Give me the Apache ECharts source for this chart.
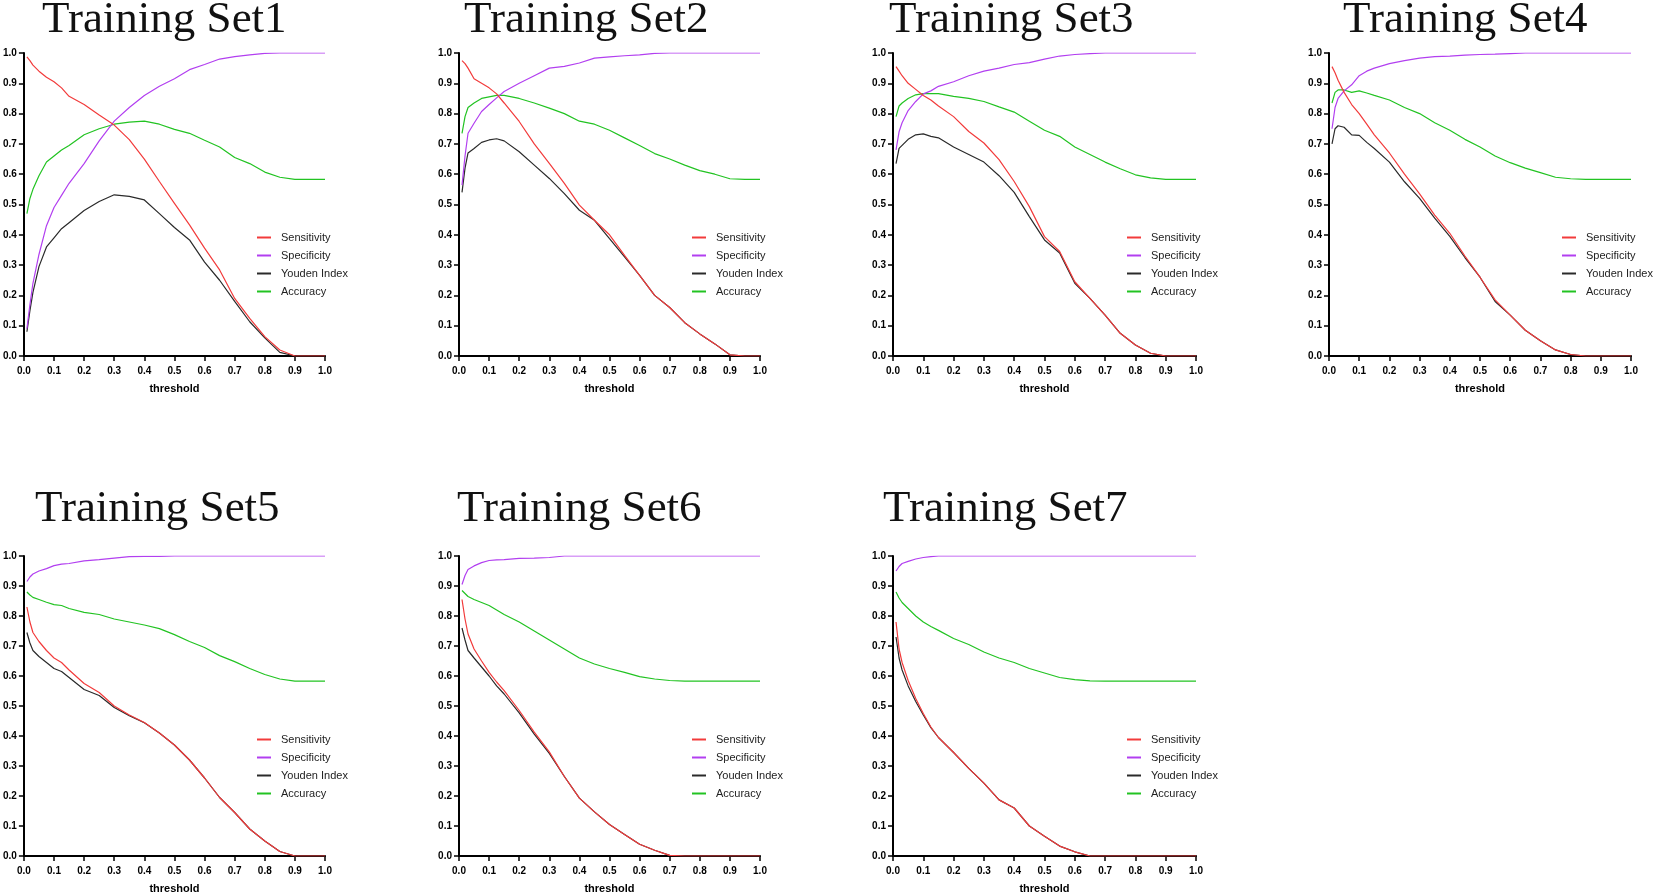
<!DOCTYPE html>
<html>
<head>
<meta charset="utf-8">
<title>Training Sets - threshold curves</title>
<script src="https://cdn.jsdelivr.net/npm/echarts@6/dist/echarts.min.js"></script>
<style>
  html, body { margin: 0; padding: 0; background: #fff; }
  #chart { width: 1654px; height: 895px; }
</style>
</head>
<body>
<div id="chart"></div>
<script>
// thresholds shared by every panel
const thresholds = [0.01, 0.02, 0.03, 0.05, 0.075, 0.1, 0.125, 0.15, 0.2, 0.25, 0.3, 0.35, 0.4,
  0.45, 0.5, 0.55, 0.6, 0.65, 0.7, 0.75, 0.8, 0.85, 0.9, 0.95, 1.0];

const tickLabels = ['0.0', '0.1', '0.2', '0.3', '0.4', '0.5', '0.6', '0.7', '0.8', '0.9', '1.0'];
const seriesNames = ['Sensitivity', 'Specificity', 'Youden Index', 'Accuracy'];
const titles = ['Training Set1', 'Training Set2', 'Training Set3', 'Training Set4',
  'Training Set5', 'Training Set6', 'Training Set7'];

// Training Set1
const set1Sens = [0.987, 0.975, 0.96, 0.94, 0.92, 0.905, 0.885, 0.857, 0.83, 0.795, 0.762, 0.714, 0.65, 0.576, 0.504, 0.433, 0.356, 0.284, 0.19, 0.124, 0.064, 0.02, 0, 0, 0];
const set1Spec = [0.09, 0.17, 0.24, 0.335, 0.43, 0.49, 0.53, 0.57, 0.635, 0.71, 0.775, 0.82, 0.86, 0.89, 0.915, 0.945, 0.962, 0.98, 0.988, 0.994, 0.999, 1, 1, 1, 1];
const set1Youden = [0.08, 0.15, 0.21, 0.295, 0.36, 0.39, 0.42, 0.44, 0.48, 0.51, 0.532, 0.527, 0.515, 0.47, 0.424, 0.383, 0.31, 0.25, 0.18, 0.113, 0.06, 0.012, 0, 0, 0];
const set1Acc = [0.47, 0.52, 0.55, 0.595, 0.64, 0.66, 0.68, 0.695, 0.73, 0.75, 0.765, 0.772, 0.775, 0.765, 0.748, 0.735, 0.712, 0.69, 0.655, 0.635, 0.607, 0.59, 0.583, 0.583, 0.583];

// Training Set2
const set2Sens = [0.975, 0.965, 0.95, 0.915, 0.9, 0.885, 0.865, 0.835, 0.774, 0.7, 0.636, 0.57, 0.498, 0.448, 0.4, 0.332, 0.266, 0.2, 0.16, 0.11, 0.073, 0.04, 0.004, 0, 0];
const set2Spec = [0.564, 0.66, 0.735, 0.768, 0.807, 0.83, 0.852, 0.873, 0.9, 0.925, 0.95, 0.956, 0.967, 0.983, 0.987, 0.991, 0.994, 0.999, 1, 1, 1, 1, 1, 1, 1];
const set2Youden = [0.54, 0.62, 0.67, 0.685, 0.705, 0.713, 0.717, 0.71, 0.674, 0.63, 0.586, 0.536, 0.481, 0.448, 0.387, 0.327, 0.266, 0.2, 0.16, 0.11, 0.073, 0.04, 0.004, 0, 0];
const set2Acc = [0.735, 0.79, 0.82, 0.835, 0.85, 0.855, 0.86, 0.86, 0.85, 0.835, 0.818, 0.8, 0.775, 0.765, 0.745, 0.72, 0.695, 0.668, 0.65, 0.63, 0.612, 0.6, 0.585, 0.583, 0.583];

// Training Set3
const set3Sens = [0.955, 0.94, 0.925, 0.9, 0.88, 0.86, 0.845, 0.825, 0.79, 0.741, 0.703, 0.648, 0.576, 0.493, 0.394, 0.345, 0.245, 0.19, 0.135, 0.075, 0.036, 0.009, 0, 0, 0];
const set3Spec = [0.68, 0.74, 0.77, 0.81, 0.84, 0.865, 0.875, 0.89, 0.905, 0.925, 0.94, 0.95, 0.962, 0.968, 0.98, 0.99, 0.995, 0.998, 1, 1, 1, 1, 1, 1, 1];
const set3Youden = [0.635, 0.685, 0.695, 0.715, 0.73, 0.733, 0.725, 0.72, 0.69, 0.665, 0.64, 0.595, 0.54, 0.46, 0.383, 0.34, 0.24, 0.19, 0.135, 0.075, 0.036, 0.009, 0, 0, 0];
const set3Acc = [0.79, 0.825, 0.835, 0.85, 0.862, 0.866, 0.866, 0.866, 0.857, 0.85, 0.84, 0.822, 0.805, 0.775, 0.745, 0.725, 0.69, 0.665, 0.64, 0.618, 0.598, 0.588, 0.583, 0.583, 0.583];

// Training Set4
const set4Sens = [0.955, 0.935, 0.91, 0.87, 0.83, 0.8, 0.765, 0.73, 0.67, 0.6, 0.535, 0.465, 0.405, 0.33, 0.26, 0.185, 0.135, 0.085, 0.05, 0.02, 0.005, 0, 0, 0, 0];
const set4Spec = [0.75, 0.82, 0.85, 0.875, 0.895, 0.925, 0.94, 0.95, 0.965, 0.975, 0.983, 0.988, 0.99, 0.993, 0.995, 0.996, 0.998, 1, 1, 1, 1, 1, 1, 1, 1];
const set4Youden = [0.70, 0.75, 0.76, 0.755, 0.73, 0.728, 0.705, 0.685, 0.64, 0.575, 0.52, 0.455, 0.395, 0.325, 0.26, 0.18, 0.135, 0.085, 0.05, 0.02, 0.005, 0, 0, 0, 0];
const set4Acc = [0.835, 0.87, 0.878, 0.878, 0.87, 0.875, 0.868, 0.86, 0.845, 0.82, 0.8, 0.77, 0.745, 0.715, 0.69, 0.66, 0.638, 0.62, 0.605, 0.59, 0.585, 0.583, 0.583, 0.583, 0.583];

// Training Set5
const set5Sens = [0.83, 0.78, 0.745, 0.715, 0.685, 0.66, 0.645, 0.62, 0.575, 0.545, 0.5, 0.47, 0.445, 0.41, 0.37, 0.32, 0.26, 0.195, 0.145, 0.09, 0.05, 0.015, 0, 0, 0];
const set5Spec = [0.915, 0.93, 0.94, 0.95, 0.958, 0.968, 0.973, 0.975, 0.984, 0.988, 0.993, 0.998, 0.999, 0.999, 1, 1, 1, 1, 1, 1, 1, 1, 1, 1, 1];
const set5Youden = [0.745, 0.71, 0.685, 0.665, 0.645, 0.625, 0.615, 0.595, 0.555, 0.535, 0.495, 0.468, 0.444, 0.41, 0.37, 0.32, 0.26, 0.195, 0.145, 0.09, 0.05, 0.015, 0, 0, 0];
const set5Acc = [0.88, 0.87, 0.862, 0.855, 0.846, 0.838, 0.835, 0.825, 0.812, 0.805, 0.79, 0.78, 0.77, 0.758, 0.738, 0.715, 0.695, 0.668, 0.648, 0.625, 0.605, 0.59, 0.583, 0.583, 0.583];

// Training Set6
const set6Sens = [0.855, 0.79, 0.74, 0.69, 0.65, 0.612, 0.58, 0.551, 0.485, 0.413, 0.347, 0.265, 0.193, 0.147, 0.105, 0.072, 0.039, 0.019, 0.002, 0, 0, 0, 0, 0, 0];
const set6Spec = [0.905, 0.935, 0.955, 0.967, 0.978, 0.985, 0.987, 0.988, 0.992, 0.993, 0.995, 1, 1, 1, 1, 1, 1, 1, 1, 1, 1, 1, 1, 1, 1];
const set6Youden = [0.76, 0.72, 0.685, 0.66, 0.63, 0.6, 0.567, 0.54, 0.477, 0.406, 0.342, 0.265, 0.193, 0.147, 0.105, 0.072, 0.039, 0.019, 0.002, 0, 0, 0, 0, 0, 0];
const set6Acc = [0.885, 0.875, 0.865, 0.855, 0.845, 0.835, 0.82, 0.805, 0.78, 0.75, 0.72, 0.69, 0.66, 0.64, 0.625, 0.612, 0.598, 0.59, 0.585, 0.583, 0.583, 0.583, 0.583, 0.583, 0.583];

// Training Set7
const set7Sens = [0.78, 0.69, 0.645, 0.585, 0.525, 0.475, 0.43, 0.395, 0.345, 0.292, 0.243, 0.187, 0.16, 0.1, 0.066, 0.033, 0.014, 0, 0, 0, 0, 0, 0, 0, 0];
const set7Spec = [0.95, 0.965, 0.975, 0.982, 0.99, 0.995, 0.998, 1, 1, 1, 1, 1, 1, 1, 1, 1, 1, 1, 1, 1, 1, 1, 1, 1, 1];
const set7Youden = [0.73, 0.66, 0.62, 0.567, 0.515, 0.47, 0.428, 0.395, 0.345, 0.292, 0.243, 0.187, 0.16, 0.1, 0.066, 0.033, 0.014, 0, 0, 0, 0, 0, 0, 0, 0];
const set7Acc = [0.88, 0.86, 0.845, 0.825, 0.8, 0.78, 0.765, 0.752, 0.725, 0.705, 0.68, 0.66, 0.645, 0.625, 0.61, 0.595, 0.588, 0.584, 0.583, 0.583, 0.583, 0.583, 0.583, 0.583, 0.583];

const sets = [
  [set1Sens, set1Spec, set1Youden, set1Acc],
  [set2Sens, set2Spec, set2Youden, set2Acc],
  [set3Sens, set3Spec, set3Youden, set3Acc],
  [set4Sens, set4Spec, set4Youden, set4Acc],
  [set5Sens, set5Spec, set5Youden, set5Acc],
  [set6Sens, set6Spec, set6Youden, set6Acc],
  [set7Sens, set7Spec, set7Youden, set7Acc]
];

// panel placement, in pixels
const panels = [
  { left: 23, top: 53, width: 302, height: 303, legendLeft: 257, legendTop: 231, titleLeft: 42, titleTop: -5 },
  { left: 459, top: 53, width: 301, height: 303, legendLeft: 692, legendTop: 231, titleLeft: 464, titleTop: -5 },
  { left: 893, top: 53, width: 303, height: 303, legendLeft: 1127, legendTop: 231, titleLeft: 889, titleTop: -5 },
  { left: 1329, top: 53, width: 302, height: 303, legendLeft: 1562, legendTop: 231, titleLeft: 1343, titleTop: -5 },
  { left: 23, top: 556, width: 302, height: 302, legendLeft: 257, legendTop: 733, titleLeft: 35, titleTop: 484 },
  { left: 459, top: 556, width: 301, height: 302, legendLeft: 692, legendTop: 733, titleLeft: 457, titleTop: 484 },
  { left: 893, top: 556, width: 303, height: 302, legendLeft: 1127, legendTop: 733, titleLeft: 883, titleTop: 484 }
];

const colors = ['#f23b3b', '#b23ff0', '#2a2a2a', '#22c322'];
const zOrder = [5, 4, 3, 2];

const chart = echarts.init(document.getElementById('chart'));

const axisCommon = {
  type: 'value',
  min: 0,
  max: 1,
  interval: 0.1,
  splitLine: { show: false },
  axisLine: { show: true, lineStyle: { color: '#000', width: 2 } },
  axisTick: { show: true, length: 5, lineStyle: { color: '#000', width: 1.5 } },
  axisLabel: {
    color: '#000',
    fontFamily: 'Liberation Sans, Arial, sans-serif',
    fontWeight: 'bold',
    fontSize: 10,
    formatter: function (v) { return tickLabels[Math.round(v * 10)]; }
  }
};

const option = {
  backgroundColor: '#fff',
  animation: false,
  title: [],
  legend: [],
  grid: [],
  xAxis: [],
  yAxis: [],
  series: []
};

panels.forEach(function (p, i) {
  option.title.push({
    text: titles[i],
    left: p.titleLeft,
    top: p.titleTop,
    padding: 0,
    textStyle: {
      fontFamily: 'Liberation Serif, Times New Roman, serif',
      fontWeight: 'normal',
      fontSize: 45,
      lineHeight: 50,
      color: '#111'
    }
  });
  option.legend.push({
    orient: 'vertical',
    left: p.legendLeft,
    top: p.legendTop,
    padding: 0,
    itemGap: 5,
    itemWidth: 14,
    itemHeight: 2,
    icon: 'rect',
    selectedMode: false,
    data: seriesNames,
    textStyle: {
      fontFamily: 'Liberation Sans, Arial, sans-serif',
      fontSize: 11,
      lineHeight: 13,
      color: '#222',
      padding: [0, 0, 0, 5]
    }
  });
  option.grid.push({ left: p.left, top: p.top, width: p.width, height: p.height });
  option.xAxis.push(Object.assign({}, axisCommon, {
    gridIndex: i,
    name: 'threshold',
    nameLocation: 'middle',
    nameGap: 27,
    nameTextStyle: {
      color: '#000',
      fontFamily: 'Liberation Sans, Arial, sans-serif',
      fontWeight: 'bold',
      fontSize: 11
    },
    axisLabel: Object.assign({}, axisCommon.axisLabel, { margin: 10 })
  }));
  option.yAxis.push(Object.assign({}, axisCommon, {
    gridIndex: i,
    axisLabel: Object.assign({}, axisCommon.axisLabel, { margin: 7 })
  }));
  sets[i].forEach(function (values, k) {
    option.series.push({
      name: seriesNames[k],
      type: 'line',
      xAxisIndex: i,
      yAxisIndex: i,
      showSymbol: false,
      symbol: 'none',
      z: zOrder[k],
      color: colors[k],
      lineStyle: { width: 1.2, color: colors[k] },
      data: thresholds.map(function (t, j) { return [t, values[j]]; })
    });
  });
});

chart.setOption(option);
</script>
</body>
</html>
